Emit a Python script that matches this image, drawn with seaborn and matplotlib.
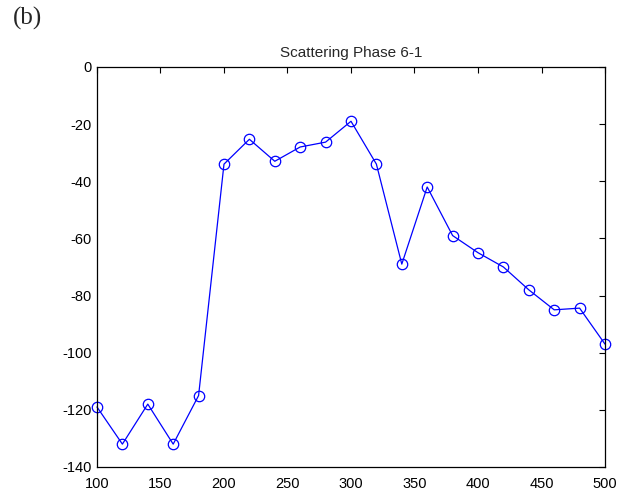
import matplotlib
matplotlib.use("Agg")
import matplotlib.pyplot as plt
import seaborn as sns
import pandas as pd

wavelength = [100, 120, 140, 160, 180, 200, 220, 240, 260, 280, 300,
              320, 340, 360, 380, 400, 420, 440, 460, 480, 500]
phase = [-119, -132, -118, -132, -115, -34, -25.3, -33, -28, -26.3, -19,
         -34, -69, -42, -59, -65, -70, -78, -85, -84.4, -97]
x_ticks = [100, 150, 200, 250, 300, 350, 400, 450, 500]
y_ticks = [0, -20, -40, -60, -80, -100, -120, -140]

sns.set_style("white")
plt.rcParams['font.family'] = ['Liberation Sans', 'DejaVu Sans']
plt.rcParams['axes.unicode_minus'] = False

df = pd.DataFrame({"x": wavelength, "y": phase})

fig = plt.figure(figsize=(6.31, 4.94), dpi=100)
ax = fig.add_axes([0.1537, 0.0547, 0.8051, 0.8097])
sns.lineplot(data=df, x="x", y="y", ax=ax, color="#0000FF", linewidth=0.9,
             marker="o", markersize=7.5, markerfacecolor="none",
             markeredgecolor="#0000FF", markeredgewidth=0.9, clip_on=False)
ax.set_xlim(100, 500)
ax.set_ylim(-140, 0)
ax.set_xticks(x_ticks)
ax.set_yticks(y_ticks)
ax.set_xlabel("")
ax.set_ylabel("")
ax.tick_params(direction="in", length=4, width=0.8, labelsize=10.5, top=True, right=True,
               labeltop=False, labelright=False, colors="black")
ax.tick_params(axis="x", pad=7)
ax.tick_params(axis="y", pad=4)
for s in ax.spines.values():
    s.set_color("black")
    s.set_linewidth(0.9)
    s.set_visible(True)
ax.set_title("Scattering Phase 6-1", fontsize=11, pad=7)
fig.text(0.021, 0.987, "(b)", fontsize=18, family="Liberation Serif", va="top", ha="left")
fig.savefig("out.png", dpi=100)
